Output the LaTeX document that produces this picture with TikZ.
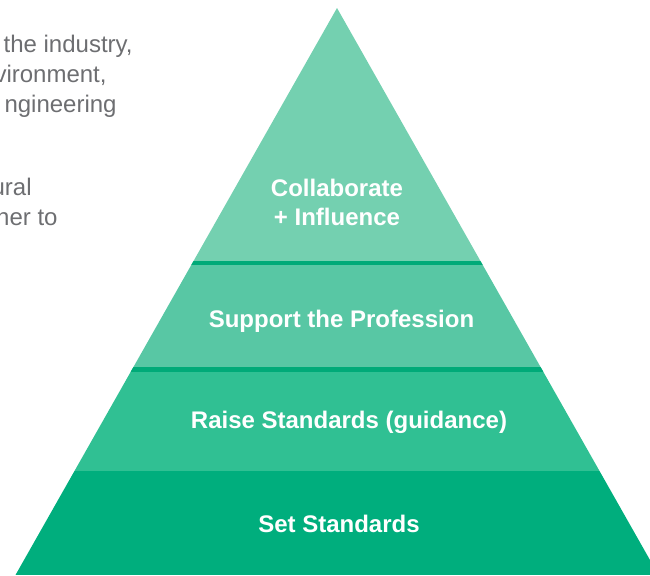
\documentclass[tikz,border=0pt]{standalone}
\usepackage{fontspec}
\setmainfont{Liberation Sans}
\definecolor{bandone}{RGB}{116,208,176}
\definecolor{bandtwo}{RGB}{88,199,164}
\definecolor{bandthree}{RGB}{48,192,147}
\definecolor{bandfour}{RGB}{0,174,125}
\definecolor{divider}{RGB}{0,170,120}
\definecolor{bodygray}{RGB}{109,110,113}

\begin{document}
\begin{tikzpicture}[x=0.5pt,y=-0.5pt,
  tier/.style={text=white,font=\fontsize{12}{14.25}\selectfont\bfseries,align=center,anchor=base,inner sep=0pt},
  blurb/.style={text=bodygray,font=\fontsize{12}{15.5}\selectfont,anchor=base east,inner sep=0pt}]
  \useasboundingbox (0,0) rectangle (650,575);
  \clip (0,0) rectangle (650,575);
  % cut-off paragraph on the left
  \node[blurb] (lineA) at (133,52) {the industry,};
  \node[blurb] (lineB) at (107,82.5) {vironment,};
  \node[blurb] (lineC) at (117,112.5) {ngineering};
  \node[blurb] (lineD) at (32,195) {ural};
  \node[blurb] (lineE) at (58,225) {her to};
  % pyramid, cut into four bands
  \begin{scope}
    \clip (337,8) -- (658.5,575) -- (15.5,575) -- cycle;
    \fill[bandone] (0,0) rectangle (650,263);
    \fill[bandtwo] (0,263) rectangle (650,369.5);
    \fill[bandthree] (0,369.5) rectangle (650,471);
    \fill[bandfour] (0,471) rectangle (650,575);
    % dividers
    \fill[divider] (0,260.8) rectangle (650,265.3);
    \fill[divider] (0,367.2) rectangle (650,371.7);
  \end{scope}
  % labels
  \node[tier] (collab) at (337,225) {Collaborate\\+ Influence};
  \node[tier] (support) at (341.5,327) {Support the Profession};
  \node[tier] (raise) at (349,428) {Raise Standards (guidance)};
  \node[tier] (setstd) at (339,532.5) {Set Standards};
\end{tikzpicture}
\end{document}
